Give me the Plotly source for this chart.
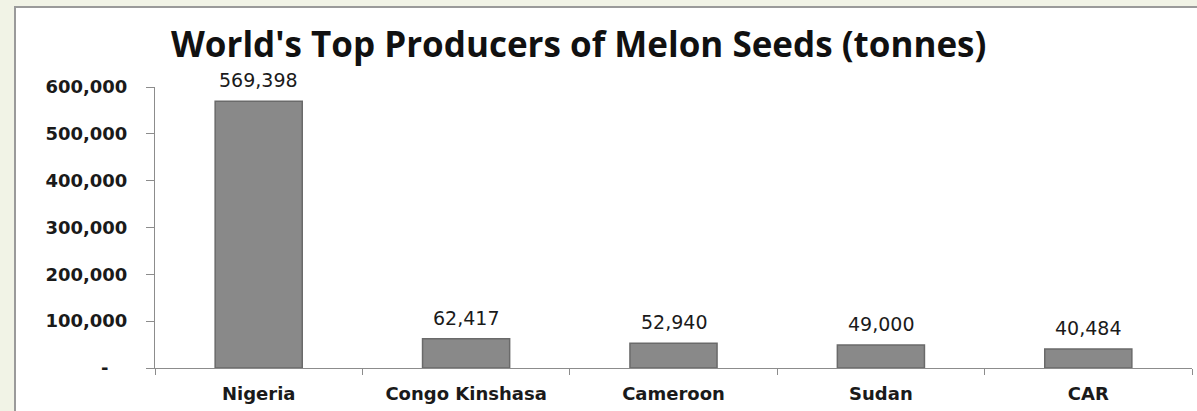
import plotly.graph_objects as go

countries = ["Nigeria", "Congo Kinshasa", "Cameroon", "Sudan", "CAR"]
tonnes = [569398, 62417, 52940, 49000, 40484]
y_tick_vals = [0, 100000, 200000, 300000, 400000, 500000, 600000]
y_tick_text = ["-\u00a0\u00a0\u00a0", "100,000", "200,000", "300,000", "400,000", "500,000", "600,000"]
title_text = "World's Top Producers of Melon Seeds (tonnes)"

W, H = 1197, 411

def px(x):
    return x / W

def py(y):
    return 1 - y / H

fig = go.Figure()
fig.add_trace(go.Bar(
    x=countries, y=tonnes, width=0.42,
    marker=dict(color="#898989", line=dict(color="#6a6a6a", width=1.5)),
    hoverinfo="skip",
))

for c, v in zip(countries, tonnes):
    fig.add_annotation(x=c, y=v, xref="x", yref="y", text=f"{v:,}",
                       showarrow=False, yanchor="bottom", yshift=8,
                       font=dict(family="DejaVu Sans", size=19, color="#1a1a1a"))

fig.add_annotation(x=px(578), y=py(44), xref="paper", yref="paper", text=title_text,
                   showarrow=False, xanchor="center", yanchor="middle",
                   font=dict(family="Open Sans", size=35, color="#111111", weight="bold"))

fig.update_layout(
    template="none",
    width=W, height=H,
    margin=dict(l=0, r=0, t=0, b=0),
    paper_bgcolor="#f1f3e6",
    plot_bgcolor="rgba(0,0,0,0)",
    showlegend=False,
    shapes=[dict(type="rect", xref="paper", yref="paper", layer="below",
                 x0=px(15), x1=px(1199), y0=py(413), y1=py(7),
                 fillcolor="white", line=dict(color="#9a9a9a", width=2))],
    xaxis=dict(domain=[px(155), px(1192)], showgrid=False, showline=True,
               automargin=False,
               linecolor="#8c8c8c", linewidth=1, ticks="outside", ticklen=6,
               tickcolor="#8c8c8c", tickson="boundaries", ticklabelstandoff=9,
               tickfont=dict(family="DejaVu Sans", size=18, color="#1a1a1a", weight="bold"),
               fixedrange=True),
    yaxis=dict(domain=[py(368), py(87)], range=[0, 600000], showgrid=False,
               automargin=False,
               showline=True, linecolor="#8c8c8c", linewidth=1, ticks="outside",
               ticklen=8, tickcolor="#8c8c8c", tickvals=y_tick_vals,
               ticktext=y_tick_text, ticklabelstandoff=15, zeroline=False,
               tickfont=dict(family="DejaVu Sans", size=18, color="#1a1a1a", weight="bold"),
               fixedrange=True),
)

fig.write_html(
    "out.html",
    config={"displayModeBar": False},
    post_script="document.body.style.margin='0';document.body.style.padding='0';document.body.style.overflow='hidden';",
)
